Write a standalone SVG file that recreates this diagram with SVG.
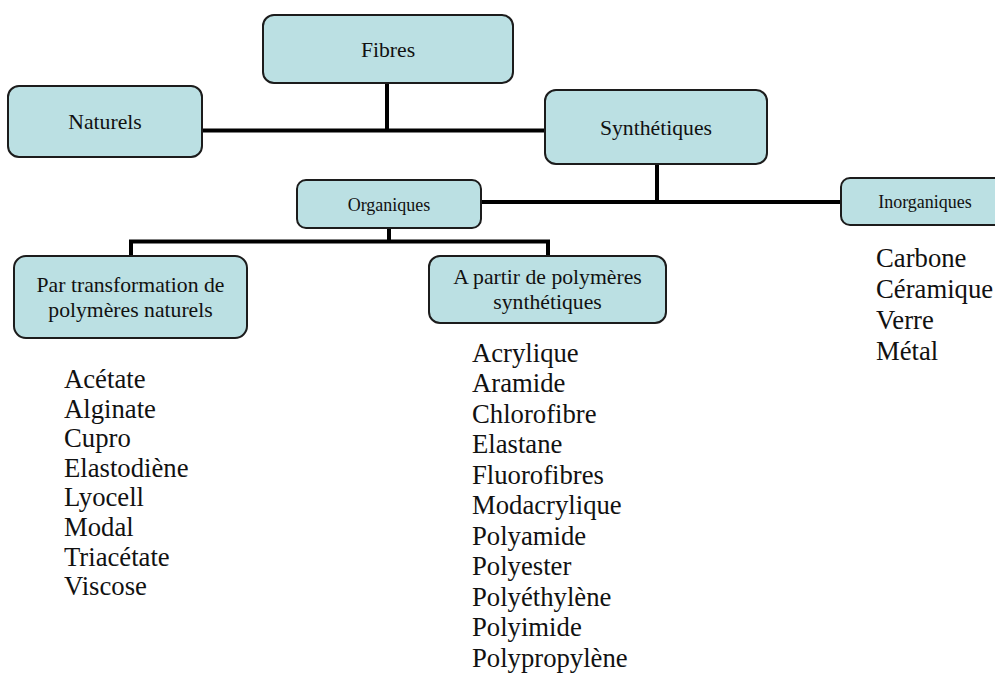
<svg xmlns="http://www.w3.org/2000/svg" width="995" height="674" viewBox="0 0 995 674">
<style>
.box{fill:#bbe0e3;stroke:#1c1c1c;stroke-width:2}
text{font-family:'Liberation Serif','Times New Roman',Times,serif;fill:#111}
.lbl{font-size:21.7px;text-anchor:middle}
.sm{font-size:18px;text-anchor:middle}
.lst{font-size:26.7px}
.con{fill:none;stroke:#000;stroke-width:4}
</style>
<rect width="995" height="674" fill="#fff"/>
<g id="connectors">
<path class="con" d="M387 83 V130"/>
<path class="con" d="M202 130.5 H545"/>
<path class="con" d="M657 164 V202"/>
<path class="con" d="M482 202 H841"/>
<path class="con" d="M389 228 V241.5"/>
<path class="con" d="M131 256 V241.5 H548 V256"/>
</g>
<g id="fibres">
<rect class="box" x="263" y="15" width="250" height="68" rx="11"/>
<text class="lbl" x="388" y="57">Fibres</text>
</g>
<g id="naturels">
<rect class="box" x="8" y="86" width="194" height="71" rx="11"/>
<text class="lbl" x="105" y="129">Naturels</text>
</g>
<g id="synthetiques">
<rect class="box" x="545" y="90" width="222" height="74" rx="11"/>
<text class="lbl" x="656" y="135">Synthétiques</text>
</g>
<g id="organiques">
<rect class="box" x="297" y="180" width="184" height="48" rx="9"/>
<text class="sm" x="389" y="211">Organiques</text>
</g>
<g id="inorganiques">
<rect class="box" x="841" y="178" width="170" height="47" rx="9"/>
<text class="sm" x="925" y="208">Inorganiques</text>
</g>
<g id="transformation">
<rect class="box" x="14" y="256" width="233" height="82" rx="12"/>
<text class="lbl" x="130.5" y="291.5">Par transformation de</text>
<text class="lbl" x="130.5" y="316.5">polymères naturels</text>
</g>
<g id="polymeres-synthetiques">
<rect class="box" x="429" y="256" width="237" height="67" rx="11"/>
<text class="lbl" x="547.5" y="284">A partir de polymères</text>
<text class="lbl" x="547.5" y="309">synthétiques</text>
</g>
<g id="liste-naturels">
<text class="lst" x="64" y="388">Acétate</text>
<text class="lst" x="64" y="417.6">Alginate</text>
<text class="lst" x="64" y="447.2">Cupro</text>
<text class="lst" x="64" y="476.8">Elastodiène</text>
<text class="lst" x="64" y="506.4">Lyocell</text>
<text class="lst" x="64" y="536">Modal</text>
<text class="lst" x="64" y="565.6">Triacétate</text>
<text class="lst" x="64" y="595.2">Viscose</text>
</g>
<g id="liste-synthetiques">
<text class="lst" x="472" y="361.7">Acrylique</text>
<text class="lst" x="472" y="392.2">Aramide</text>
<text class="lst" x="472" y="422.7">Chlorofibre</text>
<text class="lst" x="472" y="453.2">Elastane</text>
<text class="lst" x="472" y="483.7">Fluorofibres</text>
<text class="lst" x="472" y="514.2">Modacrylique</text>
<text class="lst" x="472" y="544.7">Polyamide</text>
<text class="lst" x="472" y="575.2">Polyester</text>
<text class="lst" x="472" y="605.7">Polyéthylène</text>
<text class="lst" x="472" y="636.2">Polyimide</text>
<text class="lst" x="472" y="666.7">Polypropylène</text>
</g>
<g id="liste-inorganiques">
<text class="lst" x="876" y="267">Carbone</text>
<text class="lst" x="876" y="298">Céramique</text>
<text class="lst" x="876" y="329">Verre</text>
<text class="lst" x="876" y="360">Métal</text>
</g>
</svg>
